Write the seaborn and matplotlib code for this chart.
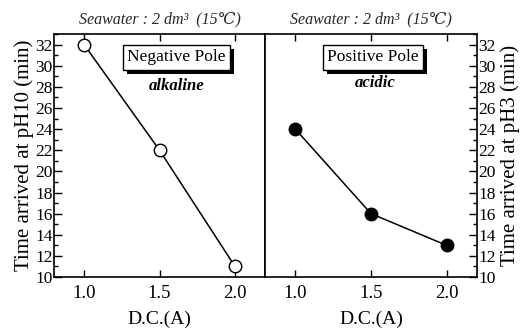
import matplotlib
matplotlib.use("Agg")
import matplotlib.pyplot as plt
import matplotlib.patheffects as pe
import seaborn as sns
import pandas as pd
from matplotlib.ticker import MultipleLocator

current = [1.0, 1.5, 2.0]
time_ph10 = [32, 22, 11]
time_ph3 = [24, 16, 13]
title_text = "Seawater : 2 dm\u00b3  (15\u2103)"

sns.set_theme(style="white")
plt.rcParams['font.family'] = ['Liberation Serif', 'DejaVu Serif']
plt.rcParams['mathtext.fontset'] = 'stix'

fig = plt.figure(figsize=(5.24, 3.3), dpi=100)
axL = fig.add_axes([0.103, 0.1606, 0.403, 0.736])
axR = fig.add_axes([0.506, 0.1606, 0.404, 0.736])

dfL = pd.DataFrame({"x": current, "y": time_ph10})
dfR = pd.DataFrame({"x": current, "y": time_ph3})

sns.lineplot(data=dfL, x="x", y="y", ax=axL, color="black", lw=1.1,
             marker="o", markersize=9, markerfacecolor="white",
             markeredgecolor="black", markeredgewidth=1.0)
sns.lineplot(data=dfR, x="x", y="y", ax=axR, color="black", lw=1.1,
             marker="o", markersize=9, markerfacecolor="black",
             markeredgecolor="black", markeredgewidth=1.0)

for ax in (axL, axR):
    ax.set_xlim(0.8, 2.2)
    ax.set_ylim(10, 33)
    ax.set_xticks(current)
    ax.set_xticklabels(["1.0", "1.5", "2.0"])
    ax.yaxis.set_major_locator(MultipleLocator(2))
    ax.yaxis.set_minor_locator(MultipleLocator(1))
    for s in ax.spines.values():
        s.set_color("black")
        s.set_linewidth(1.2)
    ax.set_xlabel("D.C.(A)", fontsize=14, color="black", labelpad=6)
    ax.tick_params(axis="x", which="major", direction="in", length=5, width=1,
                   top=True, bottom=True, labelsize=13.5, colors="black", pad=6)
    ax.set_facecolor("white")
    ax.set_title(title_text, fontsize=11.5, style="italic", pad=8,
                 family=['Liberation Serif', 'DejaVu Serif'])

axL.tick_params(axis="y", which="both", direction="in", left=True, right=False,
                labelleft=True, labelright=False, labelsize=12.5, colors="black", pad=1)
axL.tick_params(axis="y", which="major", length=6, width=1)
axL.tick_params(axis="y", which="minor", length=3, width=1)
axL.set_ylabel("Time arrived at pH10 (min)", fontsize=15, color="black", labelpad=1)

axR.yaxis.set_label_position("right")
axR.tick_params(axis="y", which="both", direction="in", left=False, right=True,
                labelleft=False, labelright=True, labelsize=12.5, colors="black", pad=1)
axR.tick_params(axis="y", which="major", length=6, width=1)
axR.tick_params(axis="y", which="minor", length=3, width=1)
axR.set_ylabel("Time arrived at pH3 (min)", fontsize=15, color="black",
               rotation=90, labelpad=3)

shadow = [pe.SimplePatchShadow(offset=(3, -3), shadow_rgbFace="black", alpha=1), pe.Normal()]
bbox = dict(boxstyle="square,pad=0.25", fc="white", ec="black", lw=1)

tL = axL.text(0.58, 0.905, "Negative Pole", transform=axL.transAxes, ha="center",
              va="center", fontsize=12.5, color="black", bbox=bbox)
tL.get_bbox_patch().set_path_effects(shadow)
axL.text(0.58, 0.785, "alkaline", transform=axL.transAxes, ha="center", va="center",
         fontsize=12, style="italic", weight="bold", color="black")

tR = axR.text(0.51, 0.905, "Positive Pole", transform=axR.transAxes, ha="center",
              va="center", fontsize=12.5, color="black", bbox=bbox)
tR.get_bbox_patch().set_path_effects(shadow)
axR.text(0.52, 0.80, "acidic", transform=axR.transAxes, ha="center", va="center",
         fontsize=12, style="italic", weight="bold", color="black")

fig.savefig("out.png", dpi=100, facecolor="white")
